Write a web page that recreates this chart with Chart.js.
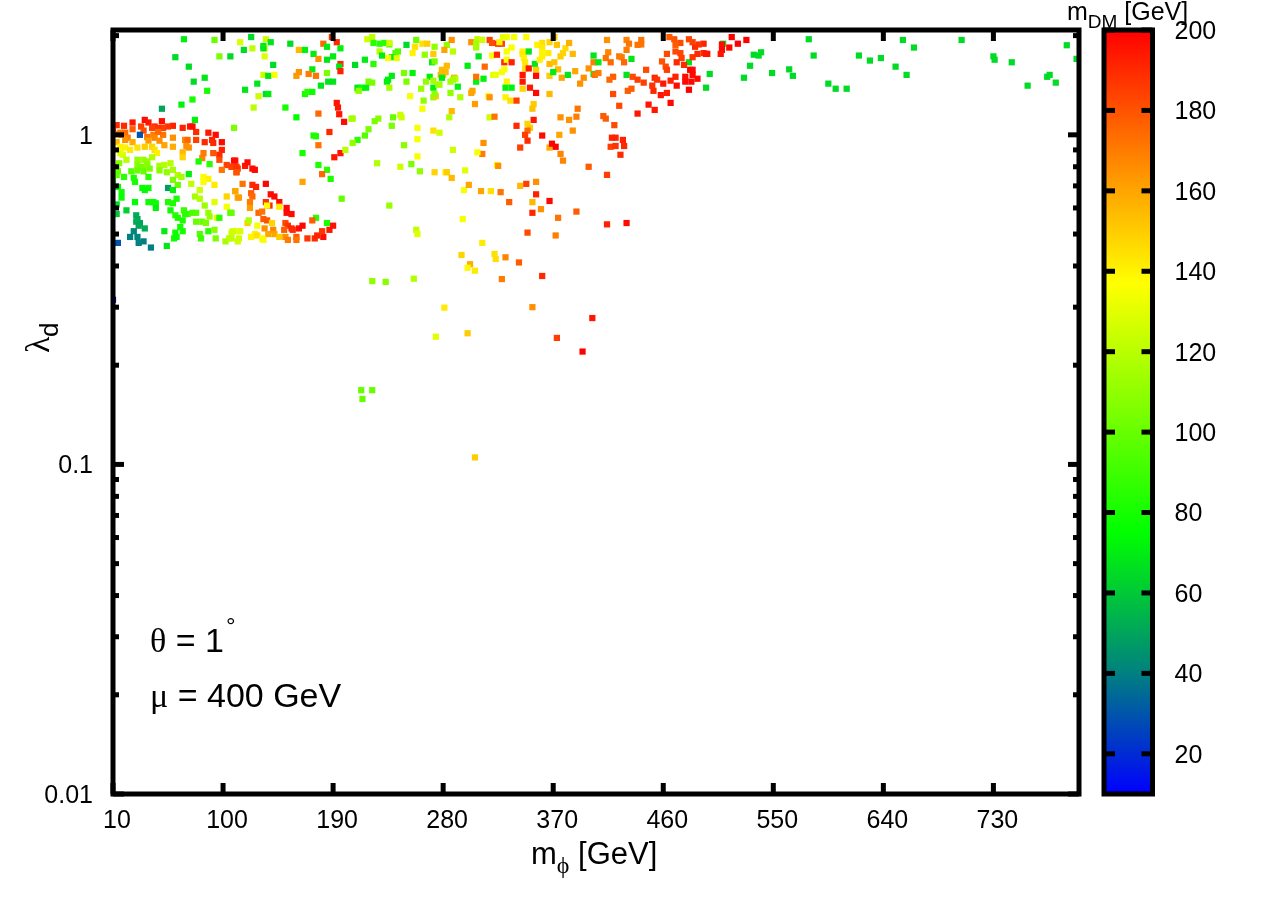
<!DOCTYPE html>
<html>
<head>
<meta charset="utf-8">
<title>lambda_d vs m_phi</title>
<script src="https://cdn.jsdelivr.net/npm/chart.js@4"></script>
<style>
  html, body { margin: 0; background: #fff; }
  canvas { position: absolute; left: 0; top: 0; }
</style>
</head>
<body>
<canvas id="scan" width="1284" height="899"></canvas>
<canvas id="colorbar" width="1284" height="899"></canvas>
<script>
// axis ticks
var xTickValues = [10, 100, 190, 280, 370, 460, 550, 640, 730];
var yTickValues = [0.01, 0.1, 1];
var yMinorValues = [0.02, 0.03, 0.04, 0.05, 0.06, 0.07, 0.08, 0.09, 0.2, 0.3, 0.4, 0.5, 0.6, 0.7, 0.8, 0.9, 2];
var barTickValues = [20, 40, 60, 80, 100, 120, 140, 160, 180, 200];

// colour scale of m_DM
var paletteValues = [10, 40, 75, 137, 160, 200];
var paletteColors = [[0, 0, 255], [0, 128, 128], [0, 255, 0], [255, 255, 0], [255, 165, 0], [255, 0, 0]];

// every row: m_phi, lambda_d, m_DM
var lowerArm = [
  [10,1.03,185],[10,.95,150],[10,.74,90],[10,.71,80],[10,.316,10],
  [13,1.07,190],[19,1.065,190],[26,1.09,195],[36,1.11,197],[39,1.09,195],[50,1.10,197],[33,1.06,185],[44,1.06,190],[42,1.05,185],
  [59,1.065,192],[55,1.06,188],[51,1.05,185],[47,1.05,188],[35,1.03,182],[26,1.04,178],[20,1.015,175],[16,1.015,172],[13,1.005,170],
  [17,1.0,172],[22,.98,170],[26,.95,158],[13,.95,155],[20,.965,165],[38,.985,172],[43,1.0,170],[51,1.0,172],[47,1.02,175],
  [44,.98,168],[39,.96,162],[52,.93,160],[48,.96,165],[59,.98,165],[59,.92,158],[69,.965,168],[67,1.05,192],[73,1.06,195],
  [78,1.02,190],[75,1.06,197],[88,1.015,195],[94,1.0,197],[99,.95,198],[85,.95,190],[91,.965,192],[92,.945,190],[78,.965,185],
  [71,.965,175],[70,.925,165],[72,.915,165],[67,.885,155],[67,.855,148],[83,.85,168],[84,.88,170],[92,.88,180],[99,.90,192],
  [97,.87,190],[97,.84,182],[110,.835,195],[103,.81,185],[107,.80,180],[112,.79,185],[111,.77,178],[99,.783,172],
  [20,.915,140],[16,.92,140],[24,.90,142],[30,.915,145],[36,.92,150],[42,.92,148],[44,.90,145],[46,.88,140],[18,.87,128],[16,.88,130],
  [21,.84,120],[42,.855,118],[35,.84,112],[30,.84,110],[38,.83,110],[30,.81,108],[34,.80,105],[38,.81,108],[40,.79,105],[35,.775,100],
  [30,.78,100],[15,.82,108],[13,.80,105],[14,.775,100],[13,.755,97],[25,.775,95],[19,.745,85],[27,.74,82],[28,.72,80],[39,.745,85],
  [48,.805,115],[52,.81,118],[57,.82,120],[48,.78,108],[54,.77,110],[59,.783,115],[63,.755,118],[66,.745,115],[59,.73,105],[63,.705,100],
  [74,.71,122],[80,.83,80],[89,.815,85],[84,.745,138],[88,.735,140],[84,.72,138],[93,.705,142],[81,.68,125],[77,.65,115],[81,.64,118],
  [93,.625,130],[85,.61,112],[88,.58,112],[89,.565,112],[95,.56,130],[97,.56,85],[103,.605,135],[103,.65,148],[110,.675,158],[112,.645,160],
  [106,.58,92],[14,.695,75],[17,.67,78],[17,.645,78],[13,.615,65],[13,.575,60],[21,.59,62],[28,.625,75],[34,.69,78],[39,.69,78],[36,.68,75],
  [43,.625,78],[45,.62,78],[39,.625,78],[45,.60,72],[55,.69,48],[59,.68,72],[72,.76,72],[62,.64,80],[55,.625,82],[59,.62,82],[57,.59,78],
  [61,.57,85],[63,.56,82],[67,.55,82],[68,.59,88],[71,.575,90],[75,.58,92],[78,.58,95],[69,.575,85],[78,.545,100],[83,.545,100],[86,.54,105],
  [88,.51,85],[93,.515,108],[94,.485,105],[81,.50,95],[82,.485,90],[65,.525,80],[67,.51,80],[61,.505,78],[62,.49,78],[60,.485,78],[52,.51,70],
  [54,.46,68],[29,.57,52],[30,.555,50],[29,.545,52],[32,.54,50],[31,.53,50],[36,.52,52],[27,.51,42],[24,.49,40],[30,.49,42],[31,.47,40],
  [35,.475,40],[41,.455,40],[14,.47,30],[102,.475,115],[105,.485,118],[107,.505,125],[112,.51,132],[112,.475,125],[32,1.0,30],
  [109,.835,198],[107,.80,185],[111,.80,188],[111,.77,180],[118,.805,195],[120,.825,198],[124,.79,197],[126,.783,198],[116,.71,172],
  [110,.675,160],[113,.645,162],[124,.705,190],[127,.695,192],[135,.71,199],[123,.665,178],[124,.65,175],[139,.66,197],[142,.65,198],
  [146,.625,198],[135,.625,188],[138,.61,190],[136,.61,138],[122,.625,170],[122,.60,162],[146,.605,142],[152,.60,198],[152,.58,198],
  [156,.575,197],[129,.58,175],[132,.585,172],[133,.555,178],[136,.55,180],[120,.54,150],[121,.55,118],[128,.53,135],[140,.54,148],
  [134,.52,165],[141,.515,168],[137,.50,160],[142,.50,160],[146,.49,150],[151,.54,182],[153,.53,188],[150,.515,178],[156,.52,192],
  [157,.515,190],[162,.52,197],[165,.53,199],[151,.49,165],[153,.48,170],[160,.49,178],[160,.48,172],[169,.485,188],[175,.485,190],
  [177,.495,192],[182,.49,197],[181,.51,188],[187,.515,195],[190,.53,196],[176,.56,85],[173,.55,178],[185,.54,80],[165,.72,160],
  [123,.49,140],[126,.50,140],[128,.495,145],[132,.485,138],[133,.48,135],[114,.51,128],[108,.51,125],[107,.485,122],[113,.485,125],
  [107,.58,100],[197,.64,100],[165,.88,80],[178,.81,82],[185,.783,85],[188,.735,82],[181,.76,175],[191,.855,195],[196,.88,195],[200,.90,120]
];

var upperCloud = [
  [68,1.95,70],[93,1.94,100],[114,1.91,128],[123,1.98,65],[135,1.95,125],[139,1.91,68],[155,1.89,65],[117,1.81,65],[124,1.83,122],
  [133,1.86,68],[134,1.83,122],[133,1.83,68],[134,1.73,128],[61,1.72,65],[97,1.73,105],[106,1.73,65],[141,1.63,65],[72,1.61,65],[162,1.81,155],
  [167,1.81,72],[174,1.76,70],[178,1.70,165],[182,1.89,175],[189,1.98,185],[193,1.91,190],[196,1.83,72],[185,1.85,70],[190,1.73,70],
  [185,1.69,68],[196,1.64,190],[195,1.61,68],[196,1.56,192],[208,1.63,65],[173,1.58,70],[162,1.55,165],[160,1.51,163],[170,1.53,170],
  [176,1.51,172],[185,1.54,105],[133,1.52,125],[137,1.51,68],[142,1.52,135],[76,1.45,65],[85,1.49,68],[128,1.43,68],[87,1.36,80],
  [118,1.37,68],[129,1.31,125],[135,1.33,65],[137,1.33,70],[180,1.41,68],[186,1.45,68],[190,1.45,68],[167,1.33,80],[169,1.35,85],
  [173,1.35,78],[210,1.37,120],[210,1.39,68],[75,1.28,80],[66,1.235,72],[50,1.20,50],[125,1.21,120],[151,1.21,80],[160,1.13,75],
  [178,1.16,175],[193,1.25,195],[194,1.21,195],[195,1.155,195],[199,1.095,197],[205,1.12,115],[77,1.11,72],[109,1.05,105],[187,1.02,190],
  [174,.995,80],[176,.99,82],[178,.93,172],
  [218,1.95,125],[222,1.98,120],[223,1.90,85],[228,1.89,85],[232,1.90,85],[236,1.88,100],[236,1.90,125],[258,1.94,100],[250,1.875,65],
  [263,1.89,145],[267,1.89,150],[273,1.85,110],[283,1.875,110],[287,1.94,165],[257,1.85,145],[255,1.77,140],[272,1.76,150],[281,1.81,160],
  [288,1.79,120],[228,1.79,120],[243,1.79,95],[241,1.77,95],[230,1.74,70],[238,1.72,70],[235,1.71,135],[242,1.71,130],[216,1.69,70],
  [223,1.64,85],[265,1.75,110],[271,1.66,70],[273,1.67,105],[303,1.91,165],[308,1.95,120],[307,1.89,115],[307,1.84,115],[312,1.94,125],
  [318,1.94,185],[320,1.90,182],[325,1.89,190],[328,1.89,185],[326,1.91,140],[329,1.98,130],[332,1.98,132],[338,1.98,135],[348,1.98,138],
  [336,1.84,135],[332,1.79,135],[345,1.79,140],[345,1.76,142],[350,1.79,68],[309,1.73,68],[320,1.74,135],[324,1.75,190],[330,1.66,190],
  [332,1.69,135],[336,1.66,192],[346,1.71,140],[347,1.66,142],[347,1.59,145],[350,1.59,195],[355,1.64,68],[356,1.575,150],[345,1.52,195],
  [345,1.45,195],[356,1.51,198],[314,1.61,175],[300,1.62,70],[283,1.62,155],[279,1.575,155],[282,1.55,155],[278,1.52,155],[280,1.52,155],
  [289,1.49,160],[290,1.48,120],[269,1.50,70],[272,1.46,115],[279,1.49,70],[286,1.45,115],[288,1.47,115],[266,1.45,110],[255,1.54,72],
  [248,1.54,105],[250,1.45,105],[238,1.51,70],[235,1.47,70],[234,1.45,70],[236,1.39,115],[219,1.45,105],[222,1.44,105],[213,1.39,75],
  [217,1.39,72],[211,1.36,110],[262,1.38,112],[272,1.39,72],[273,1.33,110],[276,1.42,115],[277,1.42,115],[286,1.34,110],[292,1.40,72],
  [303,1.34,160],[304,1.36,160],[307,1.45,72],[307,1.50,172],[313,1.48,72],[321,1.52,130],[323,1.52,132],[328,1.55,135],[330,1.58,135],
  [332,1.45,140],[331,1.39,72],[336,1.39,72],[345,1.38,148],[351,1.39,195],[356,1.34,198],[367,1.33,155],[367,1.51,150],[367,1.64,155],
  [371,1.66,152],[376,1.73,150],[378,1.77,148],[380,1.83,146],[386,1.76,155],[383,1.90,158],[373,1.875,152],[371,1.98,150],[367,1.91,148],
  [361,1.90,145],[357,1.875,140],[361,1.84,142],[361,1.78,140],[366,1.77,142],[361,1.73,140],[359,1.69,140],[374,1.58,155],[370,1.55,70],
  [377,1.49,160],[382,1.52,68],[388,1.56,160],[395,1.49,165],[392,1.43,165],[403,1.53,70],[404,1.52,172],[407,1.54,170],[399,1.59,165],
  [403,1.66,170],[407,1.66,70],[403,1.74,68],[414,1.94,165],[415,1.78,168],[413,1.71,172],[417,1.66,175],[419,1.50,178],[416,1.47,175],
  [424,1.73,172],[426,1.72,170],[428,1.66,175],[430,1.94,168],[432,1.89,172],[430,1.81,170],[442,1.94,172],[442,1.88,172],[439,1.875,172],
  [434,1.70,68],[430,1.52,68],[446,1.575,182],[435,1.50,182],[439,1.47,185],[444,1.44,185],[434,1.38,178],[431,1.36,178],[419,1.33,182],
  [424,1.225,182],[439,1.16,195],[448,1.235,195],[453,1.19,195],[466,1.25,198],[458,1.32,195],[463,1.34,193],[452,1.36,190],[451,1.41,188],
  [453,1.49,190],[455,1.47,188],[460,1.43,195],[466,1.46,192],[470,1.50,192],[471,1.41,197],[481,1.37,200],[478,1.50,197],[478,1.45,198],
  [483,1.45,198],[488,1.48,198],[484,1.52,198],[482,1.575,200],[484,1.575,198],[481,1.66,68],[477,1.63,190],[484,1.72,188],[488,1.76,190],
  [495,1.76,195],[493,1.89,192],[486,1.85,190],[489,1.88,188],[484,1.91,185],[481,1.95,183],[474,1.90,182],[469,1.95,180],[465,1.98,178],
  [470,1.875,178],[470,1.79,182],[474,1.77,183],[463,1.76,182],[475,1.71,185],[471,1.66,190],[459,1.67,180],[462,1.61,182],[463,1.575,185]
];

var lowerScatter = [
  [206,1.12,115],[224,1.10,105],[227,1.12,108],[239,1.13,100],[245,1.15,125],[246,1.13,125],[238,1.065,105],[219,1.04,105],[216,.995,95],
  [210,.965,85],[206,.945,110],[248,.93,108],[259,1.05,135],[259,.97,135],[259,.86,135],[272,1.03,145],[277,1.015,125],[285,1.13,118],
  [263,1.20,135],[287,1.18,155],[253,1.31,135],[264,1.27,110],[272,1.30,110],[274,1.31,150],[294,1.30,118],[317,1.31,135],[318,1.30,165],
  [331,1.30,140],[335,1.27,145],[340,1.27,185],[354,1.24,150],[353,1.20,152],[306,1.24,162],[318,1.13,125],[322,1.135,172],[340,1.065,190],
  [354,1.11,195],[349,1.08,148],[351,1.05,150],[349,1.03,175],[347,1.0,185],[349,.96,190],[343,.915,185],[361,.995,197],[376,1.13,165],
  [383,1.11,165],[389,1.135,170],[390,1.20,172],[386,1.03,165],[375,1.0,160],[411,1.14,178],[413,1.12,178],[420,1.07,182],[418,.98,192],
  [421,.98,192],[427,.965,192],[428,.925,190],[417,.92,185],[421,.925,188],[425,.87,190],[399,.80,178],[414,.756,185],[367,.915,158],
  [369,.94,199],[372,.92,200],[376,.875,168],[378,.835,168],[313,.945,165],[312,.875,170],[288,.90,125],[308,.885,135],[226,.82,118],
  [245,.80,125],[254,.815,105],[261,.775,110],[273,.77,148],[282,.77,140],[283,.77,150],[287,.74,155],[298,.78,130],[324,.81,138],[325,.805,165],
  [297,.68,135],[311,.675,160],[319,.675,145],[327,.67,172],[301,.705,160],[343,.70,155],[348,.71,185],[356,.72,165],[356,.66,192],[367,.63,198],
  [334,.625,178],[353,.625,155],[360,.595,165],[353,.58,190],[389,.585,178],[374,.56,172],[414,.535,192],[430,.54,197],[296,.555,135],
  [236,.61,112],[258,.515,122],[259,.50,130],[312,.47,142],[349,.505,182],[372,.495,170],[295,.432,148],[322,.435,145],[323,.42,145],
  [331,.425,168],[342,.41,178],[302,.405,158],[300,.395,138],[306,.387,142],[328,.365,170],[361,.373,190],[222,.36,110],[233,.358,108],
  [256,.366,118],[281,.299,142],[353,.30,165],[402,.278,195],[373,.242,185],[394,.22,200],[274,.244,130],[300,.25,150],[213,.168,100],
  [222,.168,100],[214,.158,100],[306,.105,150]
];

var farTail = [
  [579,1.95,65],[583,1.74,65],[620,1.74,65],[629,1.68,65],[638,1.71,65],[650,1.61,65],[659,1.52,65],[656,1.94,65],[665,1.84,65],[704,1.94,65],
  [730,1.73,65],[731,1.69,65],[745,1.66,65],[758,1.41,65],[774,1.50,65],[776,1.52,65],[781,1.44,65],[790,1.87,65],[798,1.70,65],[540,1.78,65],
  [534,1.75,65],[538,1.74,65],[531,1.62,65],[549,1.54,65],[526,1.49,65],[563,1.58,65],[566,1.51,65],[595,1.43,65],[601,1.38,65],[610,1.38,65],
  [498,1.53,65],[495,1.39,65],[509,1.89,68],[516,1.98,200],[528,1.94,200],[521,1.89,200],[514,1.84,198],[508,1.88,197],[508,1.81,198],
  [507,1.76,195],[496,1.76,195],[493,1.77,190]
];

function mdmColor(v) {
  var i = 0;
  while (i < paletteValues.length - 2 && v > paletteValues[i + 1]) i++;
  var t = (v - paletteValues[i]) / (paletteValues[i + 1] - paletteValues[i]);
  var a = paletteColors[i], b = paletteColors[i + 1];
  return 'rgb(' + Math.round(a[0] + (b[0] - a[0]) * t) + ',' + Math.round(a[1] + (b[1] - a[1]) * t) + ',' + Math.round(a[2] + (b[2] - a[2]) * t) + ')';
}

var TICK_FONT = '25px "Liberation Sans"';
var LABEL_FONT = '34px "Liberation Sans"';
var SYMBOL_FONT = '34px "Liberation Serif"';

// draws a row of text pieces one after the other, [text, font, raise]
function textRow(ctx, x, y, pieces) {
  ctx.textAlign = 'left';
  ctx.textBaseline = 'alphabetic';
  pieces.forEach(function (p) {
    ctx.font = p[1];
    ctx.fillText(p[0], x, y - (p[2] || 0));
    x += ctx.measureText(p[0]).width;
  });
}

function inwardTick(ctx, x0, y0, x1, y1) {
  ctx.beginPath();
  ctx.moveTo(x0, y0);
  ctx.lineTo(x1, y1);
  ctx.stroke();
}

// frame and gnuplot style inward ticks, placed with the chart's own scales
var scanFrame = {
  id: 'scanFrame',
  afterDatasetsDraw: function (chart) {
    var ctx = chart.ctx, a = chart.chartArea, x = chart.scales.x, y = chart.scales.y;
    ctx.save();
    ctx.strokeStyle = '#000';
    ctx.lineWidth = 5;
    xTickValues.forEach(function (v) {
      var p = x.getPixelForValue(v);
      inwardTick(ctx, p, a.bottom, p, a.bottom - 11);
      inwardTick(ctx, p, a.top, p, a.top + 11);
    });
    yTickValues.forEach(function (v) {
      var p = y.getPixelForValue(v);
      inwardTick(ctx, a.left, p, a.left + 11, p);
      inwardTick(ctx, a.right, p, a.right - 11, p);
    });
    yMinorValues.forEach(function (v) {
      var p = y.getPixelForValue(v);
      inwardTick(ctx, a.left, p, a.left + 6, p);
      inwardTick(ctx, a.right, p, a.right - 6, p);
    });
    ctx.strokeRect(a.left, a.top, a.right - a.left, a.bottom - a.top);
    ctx.restore();
  },
  afterDraw: function (chart) {
    var ctx = chart.ctx;
    ctx.save();
    ctx.fillStyle = '#000';
    textRow(ctx, 531, 864, [['m', '31px "Liberation Sans"'], ['\u03d5', '24px "Liberation Serif"', -9], [' [GeV]', '31px "Liberation Sans"']]);
    textRow(ctx, 1067, 20, [['m', TICK_FONT], ['DM', '19px "Liberation Sans"', -8], [' [GeV]', TICK_FONT]]);
    textRow(ctx, 150, 652, [['\u03b8', SYMBOL_FONT], [' = 1', LABEL_FONT]]);
    textRow(ctx, 226, 634, [['\u00b0', '24px "Liberation Sans"']]);
    textRow(ctx, 150, 707, [['\u03bc', SYMBOL_FONT], [' = 400 GeV', LABEL_FONT]]);
    ctx.translate(49, 353);
    ctx.rotate(-Math.PI / 2);
    textRow(ctx, 0, 0, [['\u03bb', SYMBOL_FONT]]);
    textRow(ctx, 16, 9, [['d', '26px "Liberation Sans"']]);
    ctx.restore();
  }
};

var barFrame = {
  id: 'barFrame',
  afterDatasetsDraw: function (chart) {
    var ctx = chart.ctx, a = chart.chartArea, y = chart.scales.y;
    ctx.save();
    ctx.strokeStyle = '#000';
    ctx.lineWidth = 5;
    barTickValues.forEach(function (v) {
      var p = y.getPixelForValue(v);
      inwardTick(ctx, a.left, p, a.left + 11, p);
      inwardTick(ctx, a.right, p, a.right - 11, p);
    });
    ctx.strokeRect(a.left, a.top, a.right - a.left, a.bottom - a.top);
    ctx.restore();
  }
};

function toPoints(rows) {
  return rows.map(function (r) { return { x: r[0], y: r[1], mdm: r[2] }; });
}

var groups = [lowerArm, upperCloud, lowerScatter, farTail];

new Chart(document.getElementById('scan'), {
  type: 'scatter',
  data: {
    datasets: groups.map(function (rows) {
      return {
        data: toPoints(rows),
        pointStyle: 'rect',
        pointRadius: 4.4,
        pointBorderWidth: 0,
        pointBackgroundColor: function (c) { return mdmColor(c.raw.mdm); }
      };
    })
  },
  options: {
    responsive: false,
    animation: false,
    devicePixelRatio: 1,
    layout: { padding: { left: 0, top: 30, right: 205, bottom: 0 } },
    plugins: { legend: { display: false }, tooltip: { enabled: false } },
    scales: {
      x: {
        type: 'linear',
        min: 10,
        max: 800,
        grid: { display: false, drawTicks: false },
        border: { display: false },
        afterBuildTicks: function (s) { s.ticks = xTickValues.map(function (v) { return { value: v }; }); },
        afterFit: function (s) { s.height = 105; s.paddingLeft = 0; s.paddingRight = 0; },
        ticks: {
          autoSkip: false, maxRotation: 0, padding: 12, labelOffset: 4,
          color: '#000', font: { family: 'Liberation Sans', size: 25 },
          callback: function (v) { return String(v); }
        }
      },
      y: {
        type: 'logarithmic',
        min: 0.01,
        max: 2.08,
        grid: { display: false, drawTicks: false },
        border: { display: false },
        afterBuildTicks: function (s) { s.ticks = yTickValues.map(function (v) { return { value: v }; }); },
        afterFit: function (s) { s.width = 113; s.paddingTop = 0; s.paddingBottom = 0; },
        ticks: {
          autoSkip: false, padding: 20, labelOffset: 2,
          color: '#000', font: { family: 'Liberation Sans', size: 25 },
          callback: function (v) { return String(v); }
        }
      }
    }
  },
  plugins: [scanFrame]
});

new Chart(document.getElementById('colorbar'), {
  type: 'bar',
  data: {
    labels: ['mDM'],
    datasets: [{
      data: [[paletteValues[0], paletteValues[paletteValues.length - 1]]],
      barPercentage: 1,
      categoryPercentage: 1,
      backgroundColor: function (c) {
        var a = c.chart.chartArea, y = c.chart.scales.y;
        if (!a) return '#000';
        var g = c.chart.ctx.createLinearGradient(0, y.getPixelForValue(10), 0, y.getPixelForValue(200));
        paletteValues.forEach(function (v) { g.addColorStop((v - 10) / 190, mdmColor(v)); });
        return g;
      }
    }]
  },
  options: {
    responsive: false,
    animation: false,
    devicePixelRatio: 1,
    layout: { padding: { left: 1104, top: 30, right: 0, bottom: 105 } },
    plugins: { legend: { display: false }, tooltip: { enabled: false } },
    scales: {
      x: { display: false },
      y: {
        position: 'right',
        min: 10,
        max: 200,
        grid: { display: false, drawTicks: false },
        border: { display: false },
        afterBuildTicks: function (s) { s.ticks = barTickValues.map(function (v) { return { value: v }; }); },
        afterFit: function (s) { s.width = 131.5; s.paddingTop = 0; s.paddingBottom = 0; },
        ticks: {
          autoSkip: false, padding: 22, crossAlign: 'near', labelOffset: 2,
          color: '#000', font: { family: 'Liberation Sans', size: 25 },
          callback: function (v) { return String(v); }
        }
      }
    }
  },
  plugins: [barFrame]
});
</script>
</body>
</html>
